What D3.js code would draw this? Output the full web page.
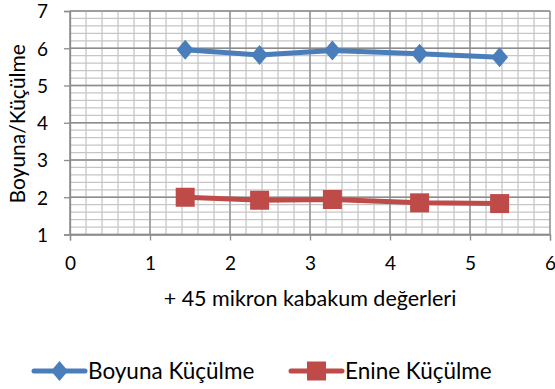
<!DOCTYPE html>
<html>
<head>
<meta charset="utf-8">
<script src="https://cdn.jsdelivr.net/npm/d3@7"></script>
<style>
  html, body { margin: 0; padding: 0; background: #fff; }
  svg { display: block; }
  text { font-family: Lato, "Open Sans", sans-serif; fill: #000; }
</style>
</head>
<body>
<svg id="chart" width="555" height="389"></svg>
<script>
// Shrinkage measurements against +45 micron sand values
const xValues = [1.44, 2.37, 3.28, 4.37, 5.37];
const boyuna = [5.96, 5.82, 5.94, 5.85, 5.76];
const enine = [2.0, 1.92, 1.94, 1.85, 1.83];
const xTicks = [0, 1, 2, 3, 4, 5, 6];
const yTicks = [1, 2, 3, 4, 5, 6, 7];
const seriesNames = ["Boyuna Küçülme", "Enine Küçülme"];
const xTitle = "+ 45 mikron kabakum değerleri";
const yTitle = "Boyuna/Küçülme";

const svg = d3.select("#chart");
const plot = { left: 70, right: 550, top: 11, bottom: 234.5 };

const x = d3.scaleLinear().domain([0, 6]).range([plot.left, plot.right]);
const y = d3.scaleLinear().domain([1, 7]).range([plot.bottom, plot.top]);

// minor grid (every 0.2)
const minorX = d3.range(0, 6.001, 0.2);
const minorY = d3.range(1, 7.001, 0.2);
const grid = svg.append("g");
grid.selectAll("line.mx").data(minorX).join("line")
  .attr("x1", d => x(d)).attr("x2", d => x(d))
  .attr("y1", plot.top).attr("y2", plot.bottom)
  .attr("stroke", "#c6c6c6").attr("stroke-width", 1.3);
grid.selectAll("line.my").data(minorY).join("line")
  .attr("y1", d => y(d)).attr("y2", d => y(d))
  .attr("x1", plot.left).attr("x2", plot.right)
  .attr("stroke", "#c6c6c6").attr("stroke-width", 1.3);
// major grid
grid.selectAll("line.Mx").data(xTicks).join("line")
  .attr("x1", d => x(d)).attr("x2", d => x(d))
  .attr("y1", plot.top).attr("y2", plot.bottom)
  .attr("stroke", "#8c8c8c").attr("stroke-width", 1.3);
grid.selectAll("line.My").data(yTicks).join("line")
  .attr("y1", d => y(d)).attr("y2", d => y(d))
  .attr("x1", plot.left).attr("x2", plot.right)
  .attr("stroke", "#8c8c8c").attr("stroke-width", 1.3);

// axes
const xAxis = svg.append("g")
  .attr("transform", `translate(0,${plot.bottom})`)
  .call(d3.axisBottom(x).tickValues(xTicks).tickSize(6).tickPadding(16).tickFormat(d3.format("d")));
const yAxis = svg.append("g")
  .attr("transform", `translate(${plot.left},0)`)
  .call(d3.axisLeft(y).tickValues(yTicks).tickSize(6).tickPadding(16).tickFormat(d3.format("d")));
[xAxis, yAxis].forEach(a => {
  a.select(".domain").attr("stroke", "#8c8c8c").attr("stroke-width", 1.3);
  a.selectAll(".tick line").attr("stroke", "#8c8c8c").attr("stroke-width", 1.3);
  a.selectAll("text").style("font-family", "Lato, sans-serif").style("font-size", "19px").attr("fill", "#000");
});
yAxis.selectAll("text").attr("dy", "0.36em");

// titles
svg.append("text")
  .attr("x", 310).attr("y", 306)
  .attr("text-anchor", "middle").style("font-size", "21.5px")
  .text(xTitle);
svg.append("text")
  .attr("transform", `translate(25,${(plot.top + plot.bottom) / 2 + 1}) rotate(-90)`)
  .attr("text-anchor", "middle").style("font-size", "21px")
  .text(yTitle);

const line = d3.line().x(d => x(d[0])).y(d => y(d[1]));
const colors = ["#4a7ebb", "#be4b48"];

function drawSeries(vals, color, shape) {
  const pts = xValues.map((v, i) => [v, vals[i]]);
  svg.append("path").datum(pts)
    .attr("d", line).attr("fill", "none")
    .attr("stroke", color).attr("stroke-width", 5)
    .attr("stroke-linejoin", "round").attr("stroke-linecap", "round");
  svg.selectAll(null).data(pts).join("path")
    .attr("transform", d => `translate(${x(d[0])},${y(d[1])})`)
    .attr("d", shape)
    .attr("fill", color);
}
const diamond = "M0,-10 L8.5,0 L0,10 L-8.5,0 Z";
const square = "M-9.5,-9.5 H9.5 V9.5 H-9.5 Z";
drawSeries(boyuna, colors[0], diamond);
drawSeries(enine, colors[1], square);

// legend
const legend = [
  { name: seriesNames[0], color: colors[0], shape: diamond, x0: 34 },
  { name: seriesNames[1], color: colors[1], shape: square, x0: 291 }
];
const ly = 371;
legend.forEach(l => {
  svg.append("line")
    .attr("x1", l.x0).attr("x2", l.x0 + 51).attr("y1", ly).attr("y2", ly)
    .attr("stroke", l.color).attr("stroke-width", 5).attr("stroke-linecap", "round");
  svg.append("path")
    .attr("transform", `translate(${l.x0 + 25.5},${ly})`)
    .attr("d", l.shape).attr("fill", l.color);
  svg.append("text")
    .attr("x", l.x0 + 54).attr("y", ly).attr("dy", "0.36em")
    .style("font-size", "22.5px")
    .text(l.name);
});
</script>
</body>
</html>
